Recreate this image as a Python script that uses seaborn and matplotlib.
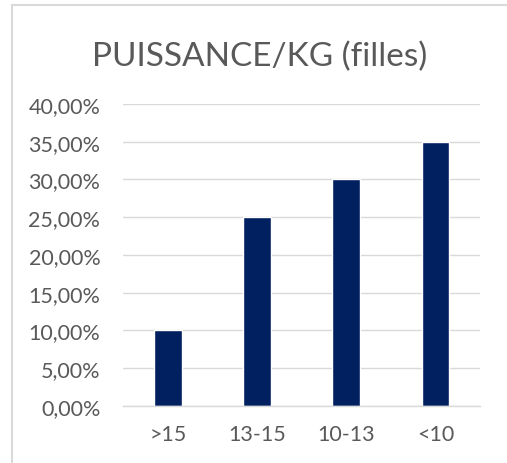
import matplotlib
matplotlib.use("Agg")
import matplotlib.pyplot as plt
import seaborn as sns
import pandas as pd
from matplotlib.ticker import FuncFormatter
from matplotlib.patches import Rectangle

categories = [">15", "13-15", "10-13", "<10"]
values = [0.10, 0.25, 0.30, 0.35]
title = "PUISSANCE/KG (filles)"

sns.set_theme(style="white")
plt.rcParams['font.family'] = ['Lato', 'DejaVu Sans']

df = pd.DataFrame({"cat": categories, "val": values})

fig = plt.figure(figsize=(5.07, 4.64), dpi=100)
ax = fig.add_axes([0.243, 0.123, 0.704, 0.651])
sns.barplot(data=df, x="cat", y="val", color="#002060", width=0.31, ax=ax, saturation=1)

ax.set_ylim(0, 0.40)
ax.set_yticks([i * 0.05 for i in range(9)])
ax.yaxis.set_major_formatter(FuncFormatter(lambda v, p: f"{v*100:.2f}%".replace(".", ",")))
ax.grid(axis="y", color="#d9d9d9", linewidth=1)
ax.set_axisbelow(True)
for s in ["top", "right", "left"]:
    ax.spines[s].set_visible(False)
ax.spines["bottom"].set_color("#d9d9d9")
ax.spines["bottom"].set_linewidth(1)
ax.tick_params(axis="both", length=0, labelsize=15.5, colors="#595959")
ax.tick_params(axis="y", pad=16.5)
ax.tick_params(axis="x", pad=13)
ax.set_xlabel("")
ax.set_ylabel("")

fig.text(0.513, 0.877, title, ha="center", va="center", fontsize=24, color="#595959")
fig.patches.append(Rectangle((0.0237, -0.02), 1.0, 1.007, transform=fig.transFigure,
                             fill=False, edgecolor="#d9d9d9", linewidth=1.5))

fig.savefig("out.png", dpi=100)
